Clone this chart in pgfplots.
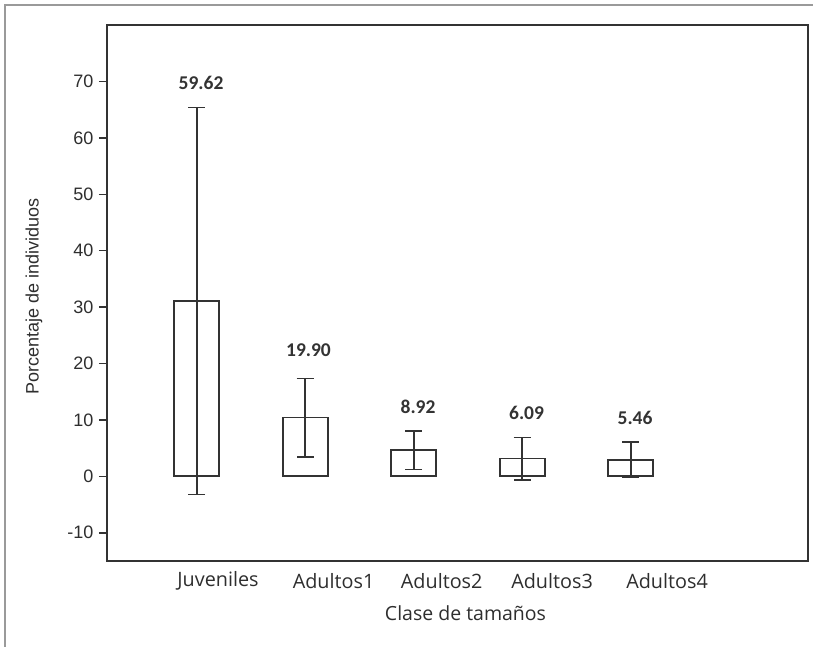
\documentclass[border=0pt]{standalone}
\usepackage{pgfplots}
\pgfplotsset{compat=1.18}
\usepackage{fontspec}
\setmainfont{Liberation Sans}
\newfontfamily\osans{Open Sans}
\newfontfamily\carlito{Carlito}
\definecolor{axgray}{HTML}{333333}
\definecolor{txtgray}{HTML}{2E2E2E}
\definecolor{framegray}{HTML}{9A9A9A}
\begin{document}
\begin{tikzpicture}[x=1bp,y=1bp]
\draw[framegray, line width=1.2bp] (5,0) -- (5,642) -- (813,642);
\begin{axis}[
  at={(107bp,86bp)}, anchor=south west,
  scale only axis, width=701bp, height=536bp,
  xmin=-0.827, xmax=5.634, ymin=-15, ymax=80,
  axis line style={axgray, line width=2bp},
  ytick={-10,0,10,20,30,40,50,60,70},
  yticklabels={-10,0,10,20,30,40,50,60,70},
  ytick pos=left, tick align=outside,
  major tick length=8bp,
  ytick style={axgray, line width=1.5bp},
  yticklabel style={font=\fontsize{18bp}{20bp}\selectfont, text=txtgray, xshift=-2bp},
  xtick={0.196,1.261,2.258,3.275,4.335},
  xticklabels={Juveniles,Adultos1,Adultos2,Adultos3,Adultos4},
  xtick style={draw=none},
  xticklabel style={font=\osans\fontsize{19.8bp}{22bp}\selectfont, text=txtgray, anchor=center, yshift=-12bp},
  xlabel={Clase de tamaños},
  xlabel style={font=\osans\fontsize{19.5bp}{22bp}\selectfont, text=txtgray, anchor=center, at={(axis description cs:0.5,0)}, yshift=-52bp, xshift=8bp},
  ylabel={Porcentaje de individuos},
  ylabel style={font=\fontsize{18bp}{20bp}\selectfont, text=txtgray, anchor=center, rotate=0, at={(axis description cs:-0.104,0.494)}},
  clip=false,
]
\addplot[ybar, bar width=0.415, bar shift=0pt, fill=white, draw=axgray, line width=1.8bp,
  error bars/.cd, y dir=both, y explicit,
  error bar style={axgray, line width=1.6bp},
  error mark options={rotate=90, mark size=8.5bp, axgray, line width=1.6bp}]
  coordinates {
  (0,31.1) +- (0,34.3)
  (1,10.42) +- (0,6.96)
  (2,4.64) +- (0,3.43)
  (3,3.15) +- (0,3.75)
  (4,2.92) +- (0,3.14)
  };
\addplot[draw=none, nodes near coords, point meta=explicit symbolic,
  every node near coord/.append style={anchor=center, font=\carlito\bfseries\fontsize{19.5bp}{22bp}\selectfont, text=axgray}]
  table[meta=label] {
  x y label
  0.04 69.7 59.62
  1.03 22.4 19.90
  2.04 12.3 8.92
  3.04 11.25 6.09
  4.04 10.37 5.46
  };
\end{axis}
\pgfresetboundingbox
\path[use as bounding box] (0,0) rectangle (813,647);
\end{tikzpicture}
\end{document}
